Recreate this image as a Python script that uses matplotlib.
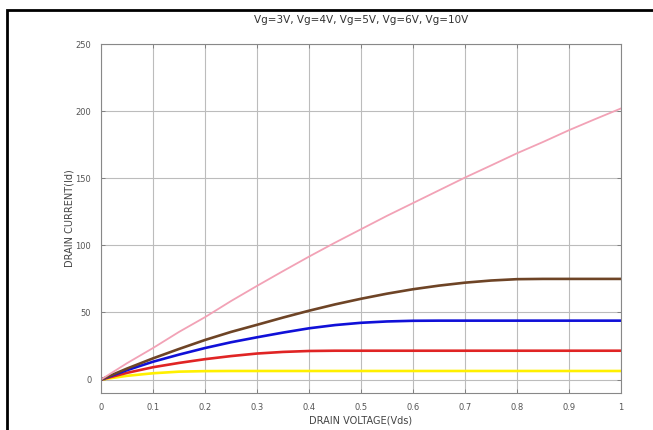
import matplotlib
matplotlib.use("Agg")
import matplotlib.pyplot as plt
from matplotlib.patches import Rectangle

vds = [0.0, 0.05, 0.1, 0.15, 0.2, 0.25, 0.3, 0.35, 0.4, 0.45, 0.5,
       0.55, 0.6, 0.65, 0.7, 0.75, 0.8, 0.85, 0.9, 0.95, 1.0]
id_vg3 = [0, 2.8, 4.7, 5.9, 6.3, 6.4, 6.4, 6.4, 6.4, 6.4, 6.4,
          6.4, 6.4, 6.4, 6.4, 6.4, 6.4, 6.4, 6.4, 6.4, 6.4]
id_vg4 = [0, 5.0, 9.2, 12.4, 15.2, 17.5, 19.4, 20.6, 21.3, 21.5, 21.5,
          21.5, 21.5, 21.5, 21.5, 21.5, 21.5, 21.5, 21.5, 21.5, 21.5]
id_vg5 = [0, 7.0, 13.3, 18.6, 23.5, 27.8, 31.5, 35.0, 38.2, 40.6, 42.3,
          43.3, 43.8, 43.9, 43.9, 43.9, 43.9, 43.9, 43.9, 43.9, 43.9]
id_vg6 = [0, 8.2, 15.8, 22.8, 29.5, 35.5, 40.8, 46.2, 51.3, 56.0, 60.2,
          64.0, 67.3, 70.0, 72.2, 73.8, 74.8, 75.0, 75.0, 75.0, 75.0]
id_vg10 = [0, 12.2, 23.5, 35.5, 46.5, 58.5, 69.8, 80.8, 91.6, 102.0, 112.0,
           122.0, 131.5, 141.0, 150.5, 159.5, 168.6, 177.0, 185.8, 194.0, 202.0]

series = [id_vg3, id_vg4, id_vg5, id_vg6, id_vg10]
colors = ["#fff000", "#e02424", "#1010d8", "#6e4426", "#f2a2b6"]
widths = [1.9, 1.9, 1.9, 1.9, 1.3]

xticks = [0, 0.1, 0.2, 0.3, 0.4, 0.5, 0.6, 0.7, 0.8, 0.9, 1]
xticklabels = ["0", "0.1", "0.2", "0.3", "0.4", "0.5", "0.6", "0.7", "0.8", "0.9", "1"]
yticks = [0, 50, 100, 150, 200, 250]
yticklabels = ["0", "50", "100", "150", "200", "250"]

fig = plt.figure(figsize=(6.53, 4.30), dpi=100)
fig.patch.set_facecolor("white")
fig.patches.append(Rectangle((7/653, -0.2), 1.2, 1.2 - 10/430,
                             transform=fig.transFigure, fill=False,
                             edgecolor="black", linewidth=2.0))

ax = fig.add_axes([101/653, 1 - 393/430, (621 - 101)/653, (393 - 44)/430])
for s, c, w in zip(series, colors, widths):
    ax.plot(vds, s, color=c, linewidth=w)

ax.set_xlim(0, 1)
ax.set_ylim(-10, 250)
ax.set_xticks(xticks)
ax.set_xticklabels(xticklabels)
ax.set_yticks(yticks)
ax.set_yticklabels(yticklabels)
ax.grid(True, color="#bcbcbc", linewidth=0.8)
ax.set_axisbelow(True)
ax.tick_params(direction="in", length=3, width=0.6, colors="#777777",
               labelsize=6, labelcolor="#555555", top=True, right=True, pad=7)
for sp in ax.spines.values():
    sp.set_color("#888888")
    sp.set_linewidth(0.8)

ax.set_title("Vg=3V, Vg=4V, Vg=5V, Vg=6V, Vg=10V", fontsize=7.5, color="#333333", pad=15)
ax.set_xlabel("DRAIN VOLTAGE(Vds)", fontsize=7, color="#444444", labelpad=3)
ax.set_ylabel("DRAIN CURRENT(Id)", fontsize=7, color="#444444", labelpad=1)

fig.savefig("out.png", dpi=100)
